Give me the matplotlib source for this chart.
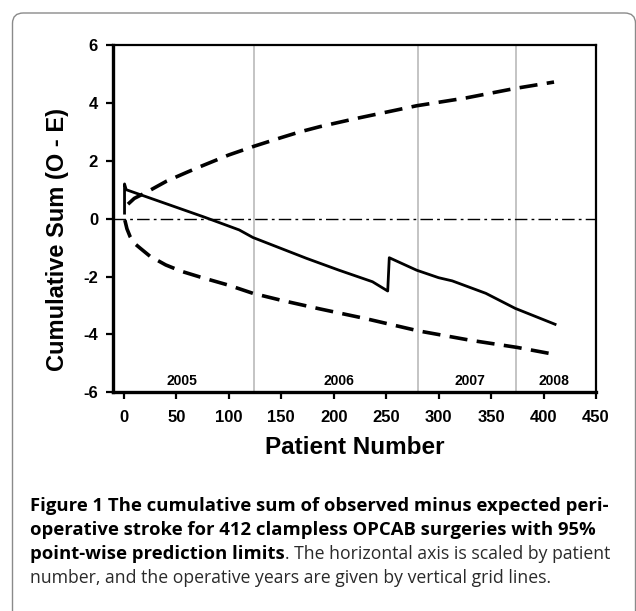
import matplotlib
matplotlib.use("Agg")
import matplotlib.pyplot as plt
from matplotlib.patches import FancyBboxPatch

# ---------------- data ----------------
cusum_x = [0.7, 0.7, 2.3, 44, 77, 110, 123, 174, 205, 237, 251.5, 253, 279, 300, 313, 345, 373, 411]
cusum_y = [0.19, 1.2, 1.0, 0.47, 0.05, -0.39, -0.65, -1.37, -1.78, -2.18, -2.5, -1.35, -1.78, -2.04, -2.15, -2.58, -3.1, -3.65]

upper_x = [4.0, 10, 22, 41, 60, 73, 100, 124, 150, 168, 187, 220, 262, 279, 326, 373, 410]
upper_y = [0.5, 0.7, 0.92, 1.3, 1.6, 1.8, 2.2, 2.5, 2.8, 3.0, 3.18, 3.45, 3.77, 3.9, 4.17, 4.5, 4.72]

lower_x = [1.0, 3, 6, 10, 15.6, 25, 40, 55, 73, 100, 123, 150, 187, 230, 281, 330, 375, 412]
lower_y = [-0.05, -0.35, -0.62, -0.85, -1.02, -1.3, -1.6, -1.82, -2.02, -2.3, -2.58, -2.82, -3.12, -3.45, -3.88, -4.2, -4.45, -4.7]

year_bounds = [124, 280, 374]
year_labels = ["2005", "2006", "2007", "2008"]
year_label_x = [55, 205, 330, 410]

x_ticks = [0, 50, 100, 150, 200, 250, 300, 350, 400, 450]
y_ticks = [-6, -4, -2, 0, 2, 4, 6]

caption_bold_1 = "Figure 1 The cumulative sum of observed minus expected peri-"
caption_bold_2 = "operative stroke for 412 clampless OPCAB surgeries with 95%"
caption_bold_3 = "point-wise prediction limits"
caption_reg_3 = ". The horizontal axis is scaled by patient"
caption_reg_4 = "number, and the operative years are given by vertical grid lines."

# ---------------- figure ----------------
W, H = 636, 611
fig = plt.figure(figsize=(W / 100, H / 100), dpi=100)

def fx(px):
    return px / W

def fy(py):
    return 1 - py / H

# rounded frame
frame = FancyBboxPatch((fx(12.5), fy(640)), fx(635.5) - fx(12.5), fy(13) - fy(640),
                       boxstyle="round,pad=0,rounding_size=0.017",
                       transform=fig.transFigure, facecolor="none",
                       edgecolor="#8a8a8a", linewidth=1.0, zorder=0)
fig.patches.append(frame)

ax_l, ax_r, ax_t, ax_b = 113.3, 596, 45, 392.3
ax = fig.add_axes([fx(ax_l), fy(ax_b), fx(ax_r) - fx(ax_l), fy(ax_t) - fy(ax_b)])
ax.set_facecolor("none")
ax.set_zorder(2)

for xb in year_bounds:
    ax.axvline(xb, color="#c4c4c4", linewidth=1.4, zorder=1)

ax.axhline(0, color="black", linewidth=1.0, dashes=(9, 3, 2, 3), zorder=2)

ax.plot(upper_x, upper_y, color="black", linewidth=2.6, dashes=(5, 2.6), zorder=3)
ax.plot(lower_x, lower_y, color="black", linewidth=2.6, dashes=(5, 2.6), zorder=3)
ax.plot(cusum_x, cusum_y, color="black", linewidth=2.0, zorder=4, solid_joinstyle="round")

for lab, xl in zip(year_labels, year_label_x):
    ax.text(xl, -5.6, lab, ha="center", va="center", fontsize=10,
            fontweight="bold", family="Liberation Sans")

ax.set_xlim(-10, 450)
ax.set_ylim(-6, 6)
ax.set_xticks(x_ticks)
ax.set_yticks(y_ticks)
ax.set_xticklabels([str(v) for v in x_ticks])
ax.set_yticklabels([str(v) for v in y_ticks])
for lbl in ax.get_xticklabels() + ax.get_yticklabels():
    lbl.set_fontweight("bold")
    lbl.set_fontsize(12)
    lbl.set_family("Liberation Sans")
ax.tick_params(axis="both", direction="out", length=5, width=1.6, color="black")
ax.tick_params(axis="x", pad=8)
ax.tick_params(axis="y", pad=6)

ax.spines["left"].set_linewidth(2.4)
ax.spines["bottom"].set_linewidth(2.4)
ax.spines["top"].set_linewidth(1.6)
ax.spines["right"].set_linewidth(1.6)

fig.text(fx(58), fy(240), "Cumulative Sum (O - E)", rotation=90, ha="center", va="center",
         fontsize=17, fontweight="bold", family="Liberation Sans")
fig.text(fx(355), fy(447), "Patient Number", ha="center", va="center",
         fontsize=17.5, fontweight="bold", family="Liberation Sans")

# caption
cap_font = ["Open Sans", "Noto Sans", "DejaVu Sans"]
cap_x = 30
line_y = [506, 530, 554, 578]
cap_size = 12.5
t1 = fig.text(fx(cap_x), fy(line_y[0]), caption_bold_1, ha="left", va="center",
              fontsize=cap_size, fontweight="bold", family=cap_font)
fig.canvas.draw()
r = fig.canvas.get_renderer()
w1 = t1.get_window_extent(r).width
cap_size = cap_size * 576.0 / w1
t1.set_fontsize(cap_size)
reg_size = cap_size * 0.95

fig.text(fx(cap_x), fy(line_y[1]), caption_bold_2, ha="left", va="center",
         fontsize=cap_size, fontweight="bold", family=cap_font)
t3 = fig.text(fx(cap_x), fy(line_y[2]), caption_bold_3, ha="left", va="center",
              fontsize=cap_size, fontweight="bold", family=cap_font)
fig.canvas.draw()
x3 = t3.get_window_extent(r).x1
fig.text(x3 / W, fy(line_y[2]), caption_reg_3, ha="left", va="center",
         fontsize=reg_size, family=cap_font, color="#2a2a2a")
fig.text(fx(cap_x), fy(line_y[3]), caption_reg_4, ha="left", va="center",
         fontsize=reg_size, family=cap_font, color="#2a2a2a")

fig.savefig("out.png", dpi=100)
